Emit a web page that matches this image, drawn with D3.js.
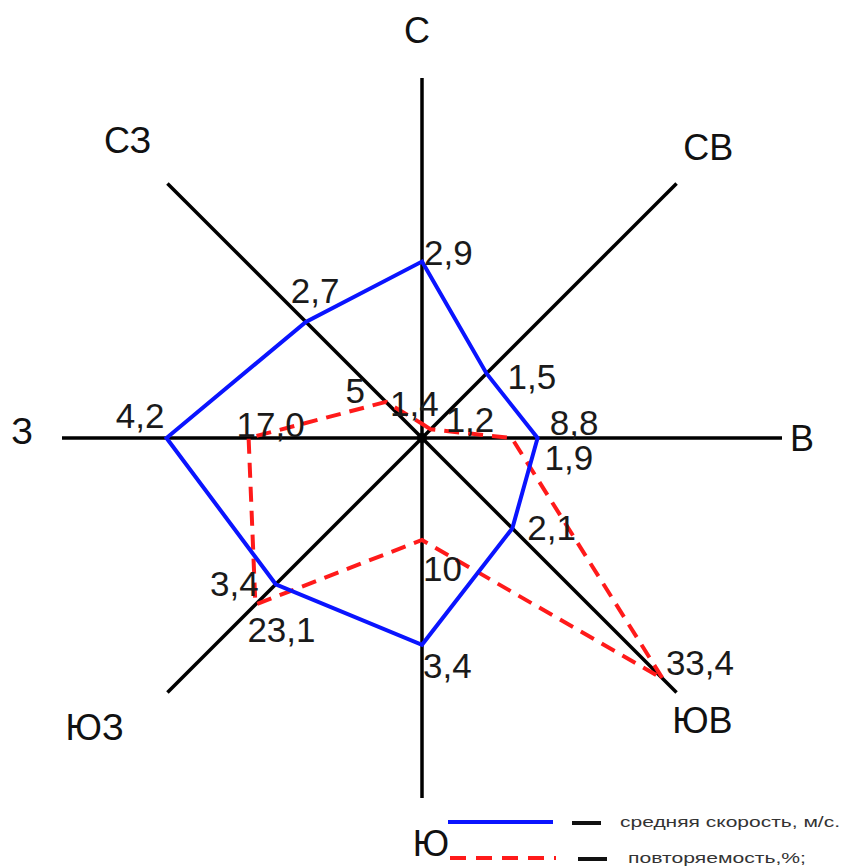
<!DOCTYPE html>
<html>
<head>
<meta charset="utf-8">
<script src="https://cdn.jsdelivr.net/npm/d3@7.9.0/dist/d3.min.js"></script>
<style>
  body { margin: 0; background: #fff; }
  svg { display: block; font-family: "Liberation Sans", Arial, sans-serif; }
</style>
</head>
<body>
<svg width="848" height="867"></svg>
<script>
// румбы, по часовой стрелке от севера
const directions = ["С", "СВ", "В", "ЮВ", "Ю", "ЮЗ", "З", "СЗ"];
// средняя скорость ветра, м/с
const speed = [2.9, 1.5, 1.9, 2.1, 3.4, 3.4, 4.2, 2.7];
const speedLabels = ["2,9", "1,5", "1,9", "2,1", "3,4", "3,4", "4,2", "2,7"];
// повторяемость, %
const repeat = [1.4, 1.2, 8.8, 33.4, 10, 23.1, 17.0, 5];
const repeatLabels = ["1,4", "1,2", "8,8", "33,4", "10", "23,1", "17,0", "5"];
const legendLabels = ["средняя скорость, м/с.", "повторяемость,%;"];

const cx = 422, cy = 438, R = 360;
const svg = d3.select("svg");
const g = svg.append("g").attr("transform", `translate(${cx},${cy})`);

const angle = d3.scaleLinear().domain([0, directions.length]).range([0, 2 * Math.PI]);
const speedR = d3.scaleLinear().domain([0, 6]).range([0, 365]);
const repeatR = d3.scaleLinear().domain([0, 35]).range([0, 357]);

// оси
directions.forEach((d, i) => {
  const [x, y] = d3.pointRadial(angle(i), R);
  g.append("line")
    .attr("x1", 0).attr("y1", 0).attr("x2", x).attr("y2", y)
    .attr("stroke", "#000").attr("stroke-width", 3.5);
});
g.append("circle").attr("r", 5).attr("fill", "#000");

// подписи румбов
const dirShift = [[-5, -3], [0, -4], [-25, 0], [-6, -4], [9, 0], [-41, 3], [5, -7], [-8, -11]];
directions.forEach((d, i) => {
  const [x, y] = d3.pointRadial(angle(i), 405);
  g.append("text")
    .attr("x", x + dirShift[i][0]).attr("y", y + dirShift[i][1])
    .attr("text-anchor", "middle").attr("dominant-baseline", "central")
    .attr("font-size", 36).attr("fill", "#111")
    .text(d);
});

// линии
const speedLine = d3.lineRadial()
  .angle((d, i) => angle(i)).radius(d => speedR(d))
  .curve(d3.curveLinearClosed);
const repeatLine = d3.lineRadial()
  .angle((d, i) => angle(i)).radius(d => repeatR(d))
  .curve(d3.curveLinearClosed);

g.append("path").datum(repeat)
  .attr("d", repeatLine)
  .attr("fill", "none").attr("stroke", "#ff1a1a")
  .attr("stroke-width", 4).attr("stroke-dasharray", "15,9")
  .attr("stroke-linejoin", "miter");

g.append("path").datum(speed)
  .attr("d", speedLine)
  .attr("fill", "none").attr("stroke", "#0a14ff")
  .attr("stroke-width", 4).attr("stroke-linejoin", "miter");

// подписи значений
const speedShift = [[2, 3, "start"], [21, 16, "start"], [7, 32, "start"], [15, 12, "start"],
  [1, 33, "start"], [-17, 12, "end"], [-2, -10, "end"], [-15, -19, "start"]];
const repeatShift = [[-32, -8, "start"], [15, 3, "start"], [38, -3, "start"], [3, -4, "start"],
  [1, 41, "start"], [-8, 37, "start"], [-12, -1, "start"], [-21, 1, "end"]];

function addLabels(values, labels, scale, shift) {
  values.forEach((v, i) => {
    const [x, y] = d3.pointRadial(angle(i), scale(v));
    g.append("text")
      .attr("x", x + shift[i][0]).attr("y", y + shift[i][1])
      .attr("text-anchor", shift[i][2])
      .attr("font-size", 35).attr("fill", "#1a1a1a")
      .text(labels[i]);
  });
}
addLabels(speed, speedLabels, speedR, speedShift);
addLabels(repeat, repeatLabels, repeatR, repeatShift);

// легенда
const legend = svg.append("g");
const legendRows = [
  { y: 822, color: "#0a14ff", dash: null, x1: 448, x2: 553, bx: 572, tx: 620, tw: 220 },
  { y: 858, color: "#ff1a1a", dash: "16,10", x1: 450, x2: 556, bx: 578, tx: 628, tw: 178 }
];
legendRows.forEach((r, i) => {
  legend.append("line")
    .attr("x1", r.x1).attr("x2", r.x2).attr("y1", r.y).attr("y2", r.y)
    .attr("stroke", r.color).attr("stroke-width", 4)
    .attr("stroke-dasharray", r.dash);
  legend.append("line")
    .attr("x1", r.bx).attr("x2", r.bx + 29).attr("y1", r.y + 1).attr("y2", r.y + 1)
    .attr("stroke", "#111").attr("stroke-width", 4);
  legend.append("text")
    .attr("x", r.tx).attr("y", r.y + 5)
    .attr("font-size", 15).attr("fill", "#333")
    .attr("textLength", r.tw).attr("lengthAdjust", "spacingAndGlyphs")
    .text(legendLabels[i]);
});
</script>
</body>
</html>
